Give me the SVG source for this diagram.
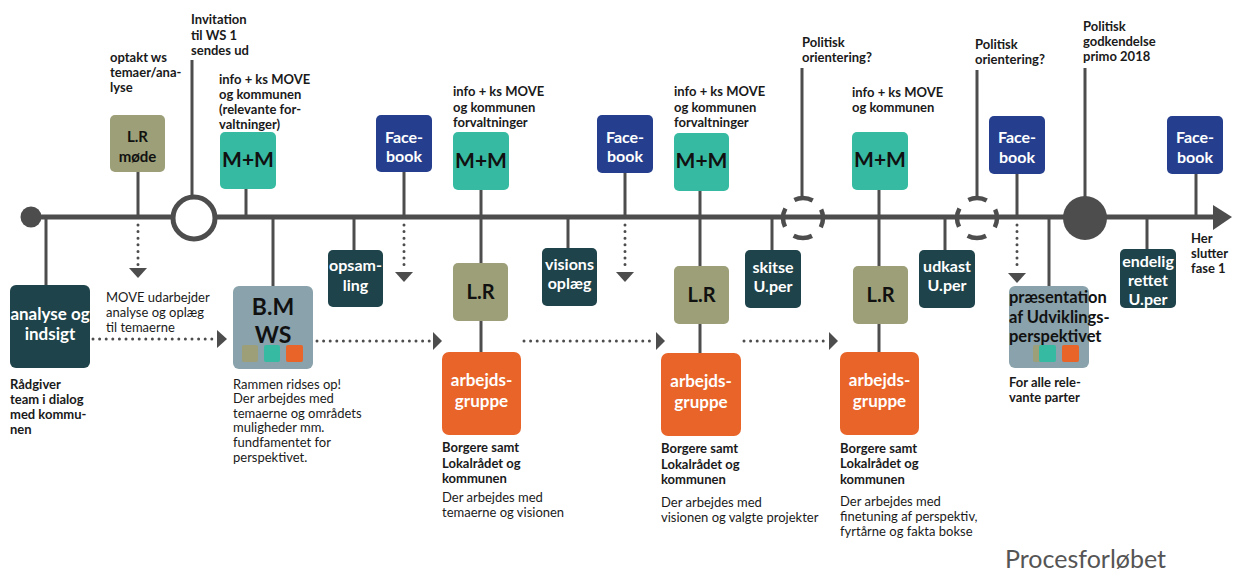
<svg xmlns="http://www.w3.org/2000/svg" width="1236" height="572" viewBox="0 0 1236 572">
<style>
text{font-family:Lato,"Open Sans","Noto Sans",sans-serif}
.lbl{font-size:13px;font-weight:700;fill:#1a1a1a}
.body{font-size:13px;font-weight:400;fill:#1a1a1a}
.bw{font-weight:700;fill:#fff;text-anchor:middle;font-size:16px}
.big{font-size:17px}
.bd{font-weight:700;fill:#111;text-anchor:middle}
.pr{font-size:16.5px;font-weight:700;fill:#111}
.ln{stroke:#4d4d4d;stroke-width:3;fill:none}
.dot{stroke:#4d4d4d;stroke-width:3;fill:none;stroke-dasharray:0 6.6;stroke-linecap:round}
.ah{fill:#4d4d4d}
.olive{fill:#9c9f77}.teal{fill:#36bba2}.navy{fill:#253f8e}.dk{fill:#1e434a}.org{fill:#e86428}.gb{fill:#89a2ab}
</style>
<g id="connectors">
  <line x1="31" y1="217" x2="1216" y2="217" stroke="#4d4d4d" stroke-width="5"/>
  <polygon class="ah" points="1213,205 1232,217 1213,230"/>
  <circle cx="31" cy="217" r="10.5" fill="#4d4d4d"/>
  <line class="ln" x1="46" y1="217" x2="46" y2="286"/>
  <line class="ln" x1="138" y1="172" x2="138" y2="217"/>
  <line class="ln" x1="192" y1="60" x2="192" y2="198"/>
  <line class="ln" x1="246" y1="189" x2="246" y2="217"/>
  <line class="ln" x1="273" y1="217" x2="273" y2="287"/>
  <line class="ln" x1="354" y1="217" x2="354" y2="251"/>
  <line class="ln" x1="404" y1="172" x2="404" y2="217"/>
  <line class="ln" x1="481" y1="190" x2="481" y2="352"/>
  <line class="ln" x1="568" y1="217" x2="568" y2="249"/>
  <line class="ln" x1="625" y1="173" x2="625" y2="217"/>
  <line class="ln" x1="700" y1="191" x2="700" y2="353"/>
  <line class="ln" x1="802" y1="68" x2="802" y2="197"/>
  <line class="ln" x1="772" y1="217" x2="772" y2="251"/>
  <line class="ln" x1="879" y1="190" x2="879" y2="352"/>
  <line class="ln" x1="945" y1="217" x2="945" y2="251"/>
  <line class="ln" x1="977" y1="70" x2="977" y2="198"/>
  <line class="ln" x1="1017" y1="174" x2="1017" y2="217"/>
  <line class="ln" x1="1049" y1="217" x2="1049" y2="287"/>
  <line class="ln" x1="1085" y1="68" x2="1085" y2="200"/>
  <line class="ln" x1="1147" y1="217" x2="1147" y2="250"/>
  <line class="ln" x1="1196" y1="174" x2="1196" y2="217"/>
  <circle cx="194" cy="218" r="21" fill="#fff" stroke="#4d4d4d" stroke-width="5"/>
  <circle cx="803" cy="218" r="20" fill="none" stroke="#4d4d4d" stroke-width="4.5" stroke-dasharray="19 12.42" stroke-dashoffset="9.5"/>
  <circle cx="977" cy="218" r="20" fill="none" stroke="#4d4d4d" stroke-width="4.5" stroke-dasharray="19 12.42" stroke-dashoffset="9.5"/>
  <circle cx="1085" cy="218" r="22" fill="#4d4d4d"/>
  <line class="dot" x1="138" y1="225" x2="138" y2="266"/>
  <polygon class="ah" points="129,268 147,268 138,278"/>
  <line class="dot" x1="404" y1="225" x2="404" y2="270"/>
  <polygon class="ah" points="395,272 413,272 404,282"/>
  <line class="dot" x1="625" y1="225" x2="625" y2="270"/>
  <polygon class="ah" points="616,272 634,272 625,282"/>
  <line class="dot" x1="1017" y1="225" x2="1017" y2="271"/>
  <polygon class="ah" points="1008,273 1026,273 1017,283"/>
  <line class="dot" x1="93" y1="339" x2="214" y2="339"/>
  <polygon class="ah" points="217,330 217,348 227,339"/>
  <line class="dot" x1="317" y1="341" x2="430" y2="341"/>
  <polygon class="ah" points="433,332 433,350 442,341"/>
  <line class="dot" x1="524" y1="341" x2="653" y2="341"/>
  <polygon class="ah" points="656,332 656,350 665,341"/>
  <line class="dot" x1="744" y1="341" x2="826" y2="341"/>
  <polygon class="ah" points="829,332 829,350 838,341"/>
</g>

<g id="n-analyse">
  <rect class="dk" x="10" y="285" width="80" height="83" rx="6"/>
  <text class="bw big" x="50" y="320">analyse og</text>
  <text class="bw big" x="50" y="340">indsigt</text>
  <text class="lbl" x="10" y="389">Rådgiver</text>
  <text class="lbl" x="10" y="404">team i dialog</text>
  <text class="lbl" x="10" y="419">med kommu-</text>
  <text class="lbl" x="10" y="434">nen</text>
</g>
<g id="n-lrmode">
  <rect class="olive" x="110" y="115" width="55" height="57" rx="5"/>
  <text class="bd" x="137.5" y="142" font-size="15">L.R</text>
  <text class="bd" x="137.5" y="162" font-size="15">møde</text>
  <text class="lbl" x="110" y="62">optakt ws</text>
  <text class="lbl" x="110" y="77">temaer/ana-</text>
  <text class="lbl" x="110" y="92">lyse</text>
</g>
<g id="n-move">
  <text class="body" x="106" y="302">MOVE udarbejder</text>
  <text class="body" x="106" y="317">analyse og oplæg</text>
  <text class="body" x="106" y="332">til temaerne</text>
</g>
<g id="n-invitation">
  <text class="lbl" x="191" y="24">Invitation</text>
  <text class="lbl" x="191" y="40">til WS 1</text>
  <text class="lbl" x="191" y="55">sendes ud</text>
</g>
<g id="n-mm1">
  <rect class="teal" x="220" y="132" width="56" height="57" rx="5"/>
  <text class="bd" x="248" y="167" font-size="21">M+M</text>
  <text class="lbl" x="219" y="84">info + ks MOVE</text>
  <text class="lbl" x="219" y="99">og kommunen</text>
  <text class="lbl" x="219" y="114">(relevante for-</text>
  <text class="lbl" x="219" y="129">valtninger)</text>
</g>
<g id="n-bmws">
  <rect class="gb" x="233" y="286" width="80" height="83" rx="6"/>
  <text class="bd" x="273" y="315" font-size="23">B.M</text>
  <text class="bd" x="273" y="343" font-size="23">WS</text>
  <rect class="olive" x="242" y="345" width="16" height="17" rx="2"/>
  <rect class="teal" x="264" y="345" width="16" height="17" rx="2"/>
  <rect class="org" x="286" y="345" width="17" height="17" rx="2"/>
  <text class="body" x="233" y="389">Rammen ridses op!</text>
  <text class="body" x="233" y="403">Der arbejdes med</text>
  <text class="body" x="233" y="418">temaerne og områdets</text>
  <text class="body" x="233" y="432">muligheder mm.</text>
  <text class="body" x="233" y="447">fundfamentet for</text>
  <text class="body" x="233" y="462">perspektivet.</text>
</g>
<g id="n-opsamling">
  <rect class="dk" x="328" y="250" width="55" height="57" rx="5"/>
  <text class="bw" x="355.5" y="271">opsam-</text>
  <text class="bw" x="355.5" y="291">ling</text>
</g>
<g id="n-fb1">
  <rect class="navy" x="376" y="115" width="56" height="57" rx="5"/>
  <text class="bw" x="404" y="143">Face-</text>
  <text class="bw" x="404" y="162">book</text>
</g>
<g id="n-mm2">
  <rect class="teal" x="453" y="132" width="56" height="58" rx="5"/>
  <text class="bd" x="481" y="168" font-size="21">M+M</text>
  <text class="lbl" x="453" y="96">info + ks MOVE</text>
  <text class="lbl" x="453" y="112">og kommunen</text>
  <text class="lbl" x="453" y="127">forvaltninger</text>
</g>
<g id="n-lr2">
  <rect class="olive" x="453" y="263" width="55" height="58" rx="5"/>
  <text class="bd" x="480.5" y="299" font-size="20">L.R</text>
</g>
<g id="n-ag1">
  <rect class="org" x="442" y="352" width="79" height="83" rx="7"/>
  <text class="bw big" x="481.5" y="386">arbejds-</text>
  <text class="bw big" x="481.5" y="407">gruppe</text>
  <text class="lbl" x="442" y="452">Borgere samt</text>
  <text class="lbl" x="442" y="468">Lokalrådet og</text>
  <text class="lbl" x="442" y="483">kommunen</text>
  <text class="body" x="442" y="502">Der arbejdes med</text>
  <text class="body" x="442" y="517">temaerne og visionen</text>
</g>
<g id="n-visions">
  <rect class="dk" x="542" y="248" width="55" height="58" rx="5"/>
  <text class="bw" x="569.5" y="270">visions</text>
  <text class="bw" x="569.5" y="289">oplæg</text>
</g>
<g id="n-fb2">
  <rect class="navy" x="597" y="115" width="56" height="58" rx="5"/>
  <text class="bw" x="625" y="143">Face-</text>
  <text class="bw" x="625" y="162">book</text>
</g>
<g id="n-mm3">
  <rect class="teal" x="674" y="133" width="55" height="58" rx="5"/>
  <text class="bd" x="701.5" y="168" font-size="21">M+M</text>
  <text class="lbl" x="674" y="96">info + ks MOVE</text>
  <text class="lbl" x="674" y="112">og kommunen</text>
  <text class="lbl" x="674" y="127">forvaltninger</text>
</g>
<g id="n-lr3">
  <rect class="olive" x="674" y="266" width="55" height="58" rx="5"/>
  <text class="bd" x="701.5" y="302" font-size="20">L.R</text>
</g>
<g id="n-ag2">
  <rect class="org" x="661" y="353" width="80" height="83" rx="7"/>
  <text class="bw big" x="701" y="387">arbejds-</text>
  <text class="bw big" x="701" y="408">gruppe</text>
  <text class="lbl" x="661" y="453">Borgere samt</text>
  <text class="lbl" x="661" y="469">Lokalrådet og</text>
  <text class="lbl" x="661" y="484">kommunen</text>
  <text class="body" x="661" y="507">Der arbejdes med</text>
  <text class="body" x="661" y="522">visionen og valgte projekter</text>
</g>
<g id="n-pol1">
  <text class="lbl" x="802" y="47">Politisk</text>
  <text class="lbl" x="802" y="62">orientering?</text>
</g>
<g id="n-skitse">
  <rect class="dk" x="745" y="250" width="56" height="58" rx="5"/>
  <text class="bw" x="773" y="273">skitse</text>
  <text class="bw" x="773" y="292">U.per</text>
</g>
<g id="n-mm4">
  <rect class="teal" x="852" y="132" width="56" height="58" rx="5"/>
  <text class="bd" x="880" y="167" font-size="21">M+M</text>
  <text class="lbl" x="852" y="97">info + ks MOVE</text>
  <text class="lbl" x="852" y="112">og kommunen</text>
</g>
<g id="n-lr4">
  <rect class="olive" x="853" y="266" width="55" height="58" rx="5"/>
  <text class="bd" x="880.5" y="302" font-size="20">L.R</text>
</g>
<g id="n-ag3">
  <rect class="org" x="840" y="352" width="79" height="83" rx="7"/>
  <text class="bw big" x="879.5" y="386">arbejds-</text>
  <text class="bw big" x="879.5" y="407">gruppe</text>
  <text class="lbl" x="840" y="453">Borgere samt</text>
  <text class="lbl" x="840" y="468">Lokalrådet og</text>
  <text class="lbl" x="840" y="484">kommunen</text>
  <text class="body" x="840" y="506">Der arbejdes med</text>
  <text class="body" x="840" y="521">finetuning af perspektiv,</text>
  <text class="body" x="840" y="536">fyrtårne og fakta bokse</text>
</g>
<g id="n-udkast">
  <rect class="dk" x="919" y="250" width="56" height="58" rx="5"/>
  <text class="bw" x="947" y="272">udkast</text>
  <text class="bw" x="947" y="291">U.per</text>
</g>
<g id="n-pol2">
  <text class="lbl" x="975" y="49">Politisk</text>
  <text class="lbl" x="975" y="64">orientering?</text>
</g>
<g id="n-fb3">
  <rect class="navy" x="989" y="116" width="56" height="58" rx="5"/>
  <text class="bw" x="1017" y="143">Face-</text>
  <text class="bw" x="1017" y="163">book</text>
</g>
<g id="n-praesentation">
  <rect class="gb" x="1009" y="286" width="80" height="82" rx="6"/>
  <text class="pr" x="1009" y="303">præsentation</text>
  <text class="pr" x="1009" y="323">af Udviklings-</text>
  <text class="pr" x="1009" y="342">perspektivet</text>
  <rect class="olive" x="1033" y="345" width="16" height="17" rx="2"/>
  <rect class="teal" x="1039" y="345" width="17" height="17" rx="2"/>
  <rect class="org" x="1062" y="345" width="17" height="17" rx="2"/>
  <text class="lbl" x="1009" y="387">For alle rele-</text>
  <text class="lbl" x="1009" y="402">vante parter</text>
</g>
<g id="n-godkendelse">
  <text class="lbl" x="1083" y="31">Politisk</text>
  <text class="lbl" x="1083" y="46">godkendelse</text>
  <text class="lbl" x="1083" y="61">primo 2018</text>
</g>
<g id="n-endelig">
  <rect class="dk" x="1120" y="249" width="56" height="59" rx="5"/>
  <text class="bw" x="1148" y="267">endelig</text>
  <text class="bw" x="1148" y="286">rettet</text>
  <text class="bw" x="1148" y="305">U.per</text>
</g>
<g id="n-fb4">
  <rect class="navy" x="1167" y="116" width="56" height="58" rx="5"/>
  <text class="bw" x="1195" y="143">Face-</text>
  <text class="bw" x="1195" y="163">book</text>
</g>
<g id="n-slut">
  <text class="lbl" x="1191" y="243">Her</text>
  <text class="lbl" x="1191" y="258">slutter</text>
  <text class="lbl" x="1191" y="273">fase 1</text>
</g>
<text x="1005" y="568" font-size="25" fill="#555" style="font-weight:400">Procesforløbet</text>
</svg>
